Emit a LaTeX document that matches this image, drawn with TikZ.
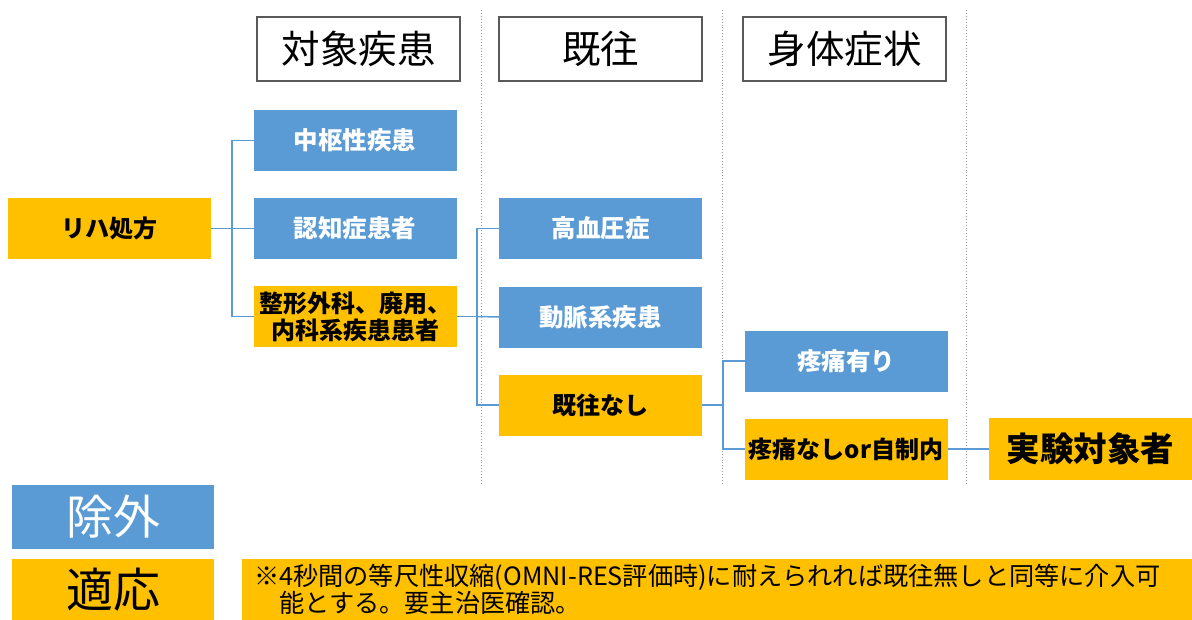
\documentclass[tikz,border=0pt]{standalone}
\usepackage{fontspec}
\setmainfont{Noto Sans CJK JP}
\definecolor{cblue}{HTML}{5B9BD5}
\definecolor{corg}{HTML}{FFC000}
\definecolor{cline}{HTML}{5B9BD5}
\definecolor{cdot}{HTML}{9A9A9A}
\definecolor{chead}{HTML}{595959}
\tikzset{
  box/.style={inner sep=0pt, outer sep=0pt, minimum width=203pt, minimum height=61pt, align=center},
  bluebox/.style={box, fill=cblue, text=white, font=\bfseries\fontsize{24.5}{27}\selectfont},
  orgbox/.style={box, fill=corg, text=black, font=\bfseries\fontsize{24}{27}\selectfont},
  headbox/.style={box, minimum height=64pt, draw=chead, line width=1.2pt, font=\fontsize{38.5}{42}\selectfont},
  legend/.style={box, minimum width=202pt, font=\fontsize{47}{50}\selectfont},
  conn/.style={draw=cline, line width=1.5pt},
  sep/.style={draw=cdot, line width=0.9pt, dotted}
}
\begin{document}
\begin{tikzpicture}[x=1pt,y=-1pt]
\useasboundingbox (0,0) rectangle (1192,619);
% separators
\draw[sep] (481,10) -- (481,485);
\draw[sep] (722,10) -- (722,485);
\draw[sep] (966,10) -- (966,485);
% headers
\node[headbox] (hd1) at (358.5,49) {対象疾患};
\node[headbox] (hd2) at (600.5,49) {既往};
\node[headbox] (hd3) at (844.5,49) {身体症状};
% nodes
\node[orgbox] (rx) at (109.5,228.5) {リハ処方};
\node[bluebox] (c1) at (355,140.5) {中枢性疾患};
\node[bluebox] (c2) at (355,228.5) {認知症患者};
\node[orgbox] (c3) at (355,316.5) {整形外科、廃用、\\内科系疾患患者};
\node[bluebox] (h1) at (600.5,228.5) {高血圧症};
\node[bluebox] (h2) at (600.5,317) {動脈系疾患};
\node[orgbox] (h3) at (600.5,405) {既往なし};
\node[bluebox] (s1) at (846,361) {疼痛有り};
\node[orgbox] (s2) at (846,449) {疼痛なしor自制内};
\node[orgbox, minimum height=62pt, font=\bfseries\fontsize{33.5}{36}\selectfont] (t) at (1090.5,449) {実験対象者};
% connectors
\coordinate (j1) at (232,228.5);
\coordinate (j2) at (477,316.5);
\coordinate (j3) at (723,405);
\draw[conn] (rx.east) -- (j1);
\draw[conn] (c1.west) -| (j1) |- (c3.west);
\draw[conn] (j1) -- (c2.west);
\draw[conn] (c3.east) -- (j2);
\draw[conn] (h1.west) -| (j2) |- (h3.west);
\draw[conn] (j2) -- (h2.west);
\draw[conn] (h3.east) -- (j3);
\draw[conn] (s1.west) -| (j3) |- (s2.west);
\draw[conn] (s2.east) -- (t.west);
% legend
\node[legend, fill=cblue, text=white, minimum height=64pt] (ex) at (113,517) {除外};
\node[legend, fill=corg, text=black, minimum height=62pt] (ap) at (113,590) {適応};
\node[inner sep=0pt, outer sep=0pt, fill=corg, minimum width=950pt, minimum height=62pt, anchor=north west] (nt) at (242,559) {};
\node[inner sep=0pt, anchor=north west, align=left, font=\fontsize{25.2}{23}\selectfont] (ntx) at (254,564) {※4秒間の等尺性収縮(OMNI-RES評価時)に耐えられれば既往無しと同等に介入可\\\hspace*{1em}能とする。要主治医確認。};
\end{tikzpicture}
\end{document}
